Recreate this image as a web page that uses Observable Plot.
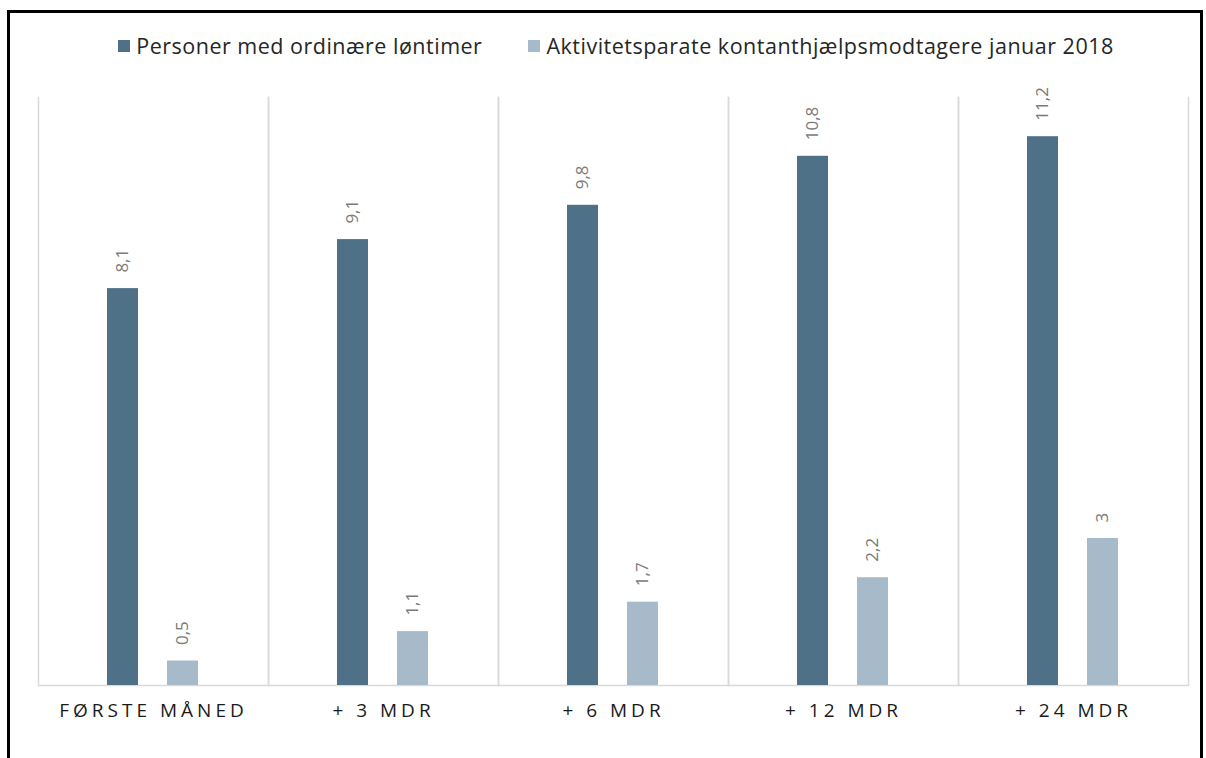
<!DOCTYPE html>
<html>
<head>
<meta charset="utf-8">
<script src="https://cdn.jsdelivr.net/npm/d3@7"></script>
<script src="https://cdn.jsdelivr.net/npm/@observablehq/plot@0.6"></script>
<style>
  html, body { margin: 0; padding: 0; background: #fff; }
  body { position: relative; width: 1206px; height: 758px; overflow: hidden; font-family: "Open Sans", sans-serif; }
  #border { position: absolute; left: 7px; top: 10px; width: 1190px; height: 800px; border: 3px solid #000; }
  #legend { position: absolute; left: 13px; top: 31px; width: 1206px; display: flex; justify-content: center; gap: 46px; font-size: 21.5px; letter-spacing: 0.5px; color: #262626; }
  #legend .item { display: flex; align-items: center; }
  #legend .sw { width: 12px; height: 12px; margin-right: 6px; }
  #chart { position: absolute; left: 0; top: 0; }
  #chart g[aria-label^="fx-axis"] text { letter-spacing: 4px; }
</style>
</head>
<body>
<div id="border"></div>
<div id="legend"></div>
<div id="chart"></div>
<script>
const categories = ["FØRSTE MÅNED", "+ 3 MDR", "+ 6 MDR", "+ 12 MDR", "+ 24 MDR"];
const seriesNames = ["Personer med ordinære løntimer", "Aktivitetsparate kontanthjælpsmodtagere januar 2018"];
const persons = [8.1, 9.1, 9.8, 10.8, 11.2];
const recipients = [0.5, 1.1, 1.7, 2.2, 3];
const colors = ["#4f7188", "#a7bac9"];

const data = categories.flatMap((c, i) => [
  {cat: c, series: seriesNames[0], value: persons[i]},
  {cat: c, series: seriesNames[1], value: recipients[i]}
]);
const fmt = v => String(v).replace(".", ",");

const legend = document.getElementById("legend");
seriesNames.forEach((s, i) => {
  const it = document.createElement("div");
  it.className = "item";
  const sw = document.createElement("div");
  sw.className = "sw";
  sw.style.background = colors[i];
  const t = document.createElement("span");
  t.textContent = s;
  it.appendChild(sw); it.appendChild(t);
  legend.appendChild(it);
});

const chart = Plot.plot({
  width: 1206,
  height: 758,
  marginTop: 97,
  marginBottom: 73,
  marginLeft: 38,
  marginRight: 18,
  style: {fontFamily: "Open Sans, sans-serif", fontSize: "17px", color: "#1a1a1a", background: "transparent"},
  fx: {domain: categories, padding: 0, label: null},
  x: {domain: seriesNames, paddingInner: 0.483, paddingOuter: 1.158, axis: null},
  y: {domain: [0, 12], axis: null},
  color: {domain: seriesNames, range: colors},
  marks: [
    Plot.frame({anchor: "left", stroke: "#d9d9d9", strokeWidth: 1.5}),
    Plot.frame({anchor: "right", stroke: "#d9d9d9", strokeWidth: 1.5}),
    Plot.ruleY([0], {stroke: "#d9d9d9", strokeWidth: 1.5}),
    Plot.barY(data, {fx: "cat", x: "series", y: "value", fill: "series"}),
    Plot.text(data, {fx: "cat", x: "series", y: "value", text: d => fmt(d.value), rotate: -90, textAnchor: "start", dy: -16, fill: "#7a7a7a", fontSize: 17}),
    Plot.axisFx({anchor: "bottom", tickSize: 0, tickPadding: 18, fontSize: 19, fontWeight: 500, label: null, fill: "#1a1a1a"})
  ]
});
document.getElementById("chart").appendChild(chart);
</script>
</body>
</html>
